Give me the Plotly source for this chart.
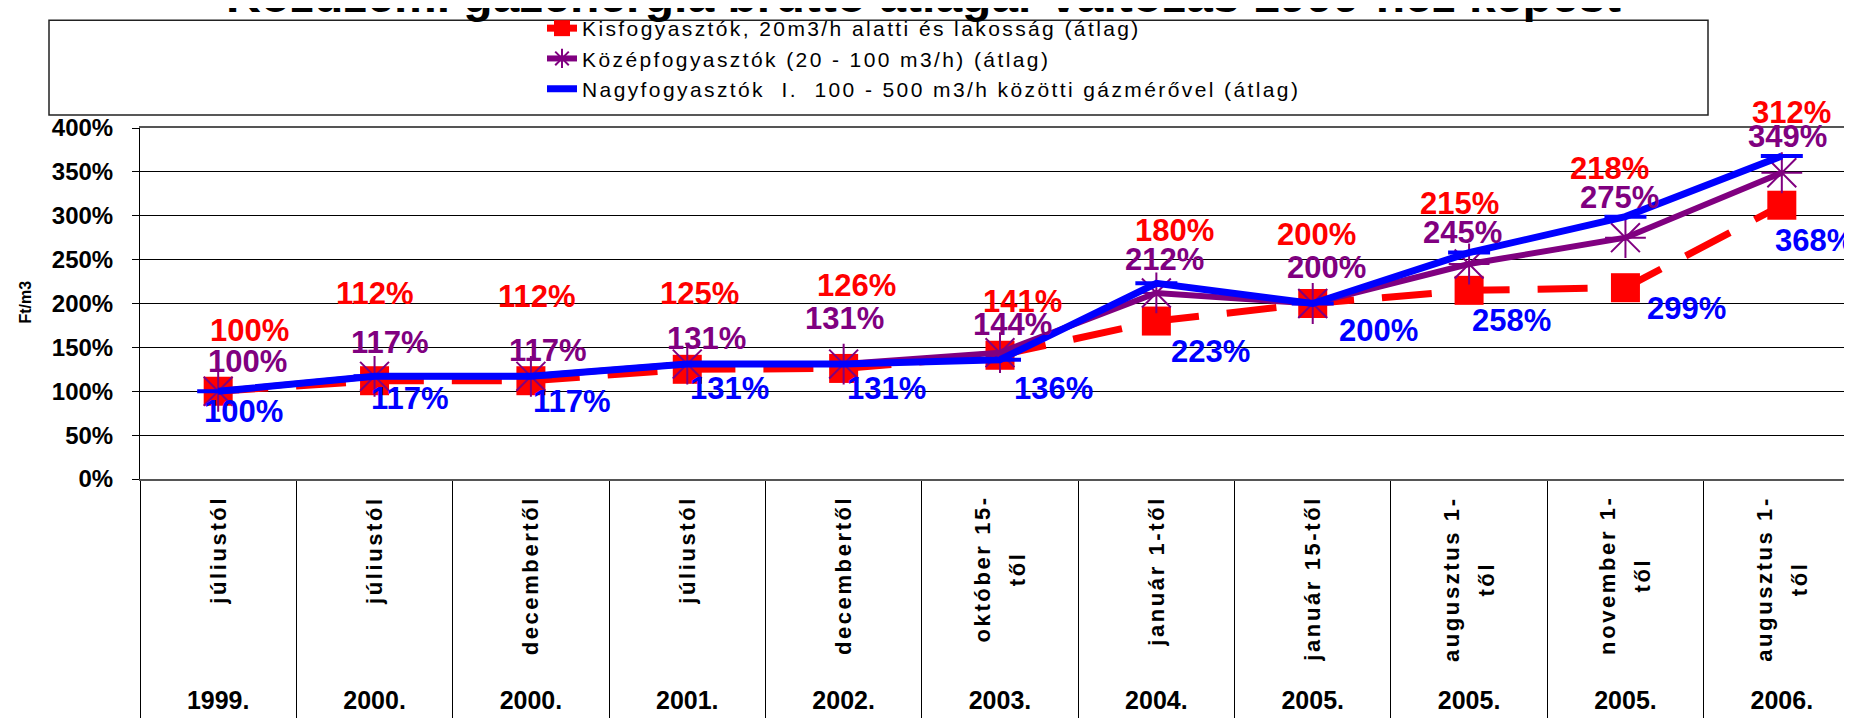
import plotly.graph_objects as go

# ---------------- data ----------------
months = ["júliustól", "júliustól", "decembertől", "júliustól", "decembertől",
          "október 15-|től", "január 1-től", "január 15-től", "augusztus 1-|től",
          "november 1-|től", "augusztus 1-|től"]
years = ["1999.", "2000.", "2000.", "2001.", "2002.", "2003.", "2004.",
         "2005.", "2005.", "2005.", "2006."]

kis = [100, 112, 112, 125, 126, 141, 180, 200, 215, 218, 312]
kozep = [100, 117, 117, 131, 131, 144, 212, 200, 245, 275, 349]
nagy = [100, 117, 117, 131, 131, 136, 223, 200, 258, 299, 368]

names = ["Kisfogyasztók, 20m3/h alatti és lakosság (átlag)",
         "Középfogyasztók (20 - 100 m3/h) (átlag)",
         "Nagyfogyasztók  I.  100 - 500 m3/h közötti gázmérővel (átlag)"]
title_text = "Közüzemi gázenergia bruttó átlagár változás 1999-hez képest"
y_ticks = [0, 50, 100, 150, 200, 250, 300, 350, 400]

# label placement offsets (pixels, screen coords: +dx right, +dy down)
kis_dx = [31, 0, 6, 12, 13, 22, 18, 4, -10, -16, 10]
kis_dy = [-61, -87, -84, -76, -83, -54, -91, -69, -87, -119, -93]
koz_dx = [29, 15, 17, 19, 1, 12, 8, 14, -7, -6, 6]
koz_dy = [-30, -34, -26, -26, -46, -28, -33, -36, -32, -40, -36]
nagy_dx = [25, 35, 41, 42, 43, 53, 54, 66, 42, 61, 33]
nagy_dy = [20, 22, 25, 24, 24, 29, 68, 27, 68, 92, 84]

RED, PURPLE, BLUE = "#FF0000", "#800080", "#0000FF"
FONT = "Liberation Sans, Arial, sans-serif"

W, H = 1852, 718
ML, MR, MT, MB = 132, 0, 119, 247
PW, PH = W - ML - MR, H - MT - MB


def px_x(p):  # absolute px -> paper x
    return (p - ML) / PW


def px_y(p):  # absolute px -> paper y
    return (H - MB - p) / PH


def spaced(t, ls, size=None, bold=False):
    st = f"letter-spacing:{ls}px"
    if size:
        st += f";font-size:{size}px"
    inner = f"<b>{t}</b>" if bold else t
    return f'<span style="{st}">{inner}</span>'


xs = list(range(len(years)))

fig = go.Figure()
fig.add_trace(go.Scatter(
    x=xs, y=kis, name=spaced(names[0], 2.4), mode="lines+markers",
    line=dict(color=RED, width=7, dash="50px,28px"),
    marker=dict(symbol="square", size=29, color=RED)))
fig.add_trace(go.Scatter(
    x=xs, y=kozep, name=spaced(names[1], 2.4), mode="lines+markers",
    line=dict(color=PURPLE, width=6),
    marker=dict(symbol="asterisk-open", size=34, color=PURPLE,
                line=dict(color=PURPLE, width=2))))
fig.add_trace(go.Scatter(
    x=xs, y=nagy, name=spaced(names[2], 2.4), mode="lines+markers",
    line=dict(color=BLUE, width=7),
    marker=dict(symbol="line-ew-open", size=30, color=BLUE,
                line=dict(color=BLUE, width=4))))

annotations = []
# data labels
for vals, dxs, dys, col in [(kis, kis_dx, kis_dy, RED),
                             (kozep, koz_dx, koz_dy, PURPLE),
                             (nagy, nagy_dx, nagy_dy, BLUE)]:
    for i, v in enumerate(vals):
        annotations.append(dict(
            x=i, y=v, xref="x", yref="y", text=f"{v}%", showarrow=False,
            xshift=dxs[i], yshift=-dys[i], xanchor="center", yanchor="middle",
            font=dict(family=FONT, size=31, color=col, weight="bold")))

# rotated month labels
for i, m in enumerate(months):
    parts = m.split("|")
    txt = "<br>".join(spaced(p, 2.6, 22, bold=True) for p in parts)
    annotations.append(dict(
        x=i, xref="x", y=px_y(486), yref="paper", text=txt, showarrow=False,
        textangle=-90, xanchor="center", yanchor="top",
        font=dict(family=FONT, size=27, color="black", weight="bold")))

# y axis title
annotations.append(dict(
    x=px_x(18), xref="paper", y=px_y(294), yref="paper", text="Ft/m3",
    showarrow=False, textangle=-90, xanchor="center", yanchor="middle",
    font=dict(family=FONT, size=16, color="black", weight="bold")))

# chart title (cut off at the top of the image)
annotations.append(dict(
    x=px_x(915), xref="paper", y=px_y(15), yref="paper", text=title_text,
    showarrow=False, xanchor="center", yanchor="bottom",
    font=dict(family=FONT, size=48, color="black", weight="bold")))

shapes = [dict(type="rect", xref="paper", yref="paper",
               x0=px_x(41), x1=px_x(1700), y0=px_y(106), y1=px_y(11),
               line=dict(color="#222222", width=1.5), fillcolor="rgba(0,0,0,0)",
               layer="below")]

fig.update_layout(
    width=W, height=H,
    margin=dict(l=ML, r=MR, t=MT, b=MB, pad=0),
    paper_bgcolor="white", plot_bgcolor="white",
    font=dict(family=FONT, color="black"),
    showlegend=True,
    legend=dict(x=px_x(534), y=px_y(-1), xanchor="left", yanchor="top",
                bgcolor="rgba(0,0,0,0)", borderwidth=0,
                font=dict(family=FONT, size=21, color="black"),
                tracegroupgap=0, itemwidth=30),
    annotations=annotations,
    shapes=shapes,
    xaxis=dict(range=[-0.5, len(years) - 0.5], tickmode="array", tickvals=xs,
               ticktext=years, ticks="", showgrid=False, zeroline=False,
               showline=True, linecolor="#555555", linewidth=2, mirror=True,
               tickfont=dict(family=FONT, size=25, color="black", weight="bold"),
               ticklabelstandoff=198, automargin=False, fixedrange=True,
               minor=dict(tickmode="array",
                          tickvals=[i - 0.5 for i in range(len(years) + 1)],
                          ticks="outside", ticklen=MB, tickcolor="black",
                          tickwidth=1, showgrid=False)),
    yaxis=dict(range=[0, 400], tickmode="array", tickvals=y_ticks,
               ticktext=[f"{t}%" for t in y_ticks], showgrid=True,
               gridcolor="black", gridwidth=1, zeroline=False,
               showline=True, linecolor="black", linewidth=1,
               ticks="outside", ticklen=7, tickcolor="black", tickwidth=1,
               tickfont=dict(family=FONT, size=24, color="black", weight="bold"),
               ticklabelstandoff=14, automargin=False, fixedrange=True),
)

fig.write_html("out.html")
